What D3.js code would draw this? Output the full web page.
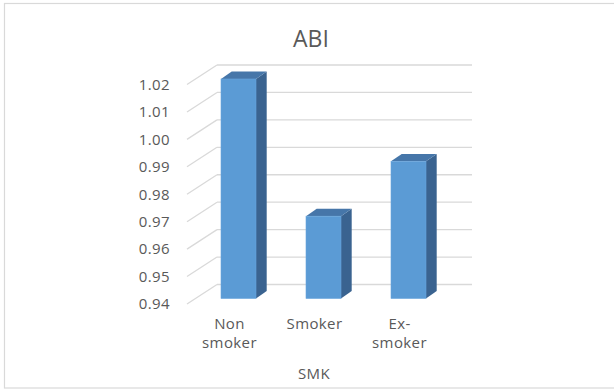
<!DOCTYPE html>
<html>
<head>
<meta charset="utf-8">
<script src="https://cdn.jsdelivr.net/npm/d3@7"></script>
<style>
  html, body { margin: 0; padding: 0; background: #ffffff; }
  svg { display: block; }
  text { font-family: "Open Sans", "Liberation Sans", sans-serif; fill: #595959; }
</style>
</head>
<body>
<svg id="chart" width="614" height="392"></svg>
<script>
// Mean ABI by smoking status
const categories = ["Non smoker", "Smoker", "Ex-smoker"];
const abiValues = [1.02, 0.97, 0.99];
const tickValues = [0.94, 0.95, 0.96, 0.97, 0.98, 0.99, 1.00, 1.01, 1.02];
const titleText = "ABI";
const axisTitle = "SMK";

const svg = d3.select("#chart");

// Chart frame
svg.append("rect")
  .attr("x", 4.5).attr("y", 3.5)
  .attr("width", 620).attr("height", 384.5)
  .attr("fill", "#ffffff")
  .attr("stroke", "#d9d9d9")
  .attr("stroke-width", 1.2);

// Back-wall scales of the 3D plot area
const y = d3.scaleLinear().domain([0.94, 1.02]).range([284.5, 65]);
const x = d3.scaleBand().domain(categories).range([217, 472]);

// Depth offsets: floor front edge, bar front plane, bar depth
const wall = { dx: -30, dy: 19.5 };
const barPlane = { dx: -21, dy: 14 };
const barDepth = { dx: 10.7, dy: -7.4 };
const barWidth = 35;

// Gridlines: back wall + side wall diagonals
const grid = svg.append("g").attr("stroke", "#d9d9d9").attr("stroke-width", 1.3).attr("fill", "none");
grid.selectAll("line.back").data(tickValues).join("line")
  .attr("class", "back")
  .attr("x1", x.range()[0]).attr("x2", x.range()[1])
  .attr("y1", d => y(d)).attr("y2", d => y(d));
grid.selectAll("line.side").data(tickValues).join("line")
  .attr("class", "side")
  .attr("x1", x.range()[0] + wall.dx).attr("y1", d => y(d) + wall.dy)
  .attr("x2", x.range()[0]).attr("y2", d => y(d));

// Value axis labels, placed along the front edge of the side wall
const axis = svg.append("g")
  .attr("transform", `translate(${x.range()[0] + wall.dx},${wall.dy})`)
  .call(d3.axisLeft(y).tickValues(tickValues).tickSize(0).tickPadding(17).tickFormat(d3.format(".2f")));
axis.select(".domain").remove();
axis.selectAll("text")
  .attr("fill", "#595959")
  .style("font-family", "'Open Sans', sans-serif")
  .style("font-size", "15px")
  .style("letter-spacing", "0.4px");

// 3D columns
const bars = svg.append("g");
const data = categories.map((c, i) => ({ c, v: abiValues[i] }));
const base = y.domain()[0];

data.forEach(d => {
  const cx = x(d.c) + x.bandwidth() / 2 + barPlane.dx;
  const x0 = cx - barWidth / 2, x1 = cx + barWidth / 2;
  const yT = y(d.v) + barPlane.dy, yB = y(base) + barPlane.dy;
  const g = bars.append("g");
  // side face
  g.append("path")
    .attr("d", `M${x1},${yT}L${x1 + barDepth.dx},${yT + barDepth.dy}L${x1 + barDepth.dx},${yB + barDepth.dy}L${x1},${yB}Z`)
    .attr("fill", "#3a6390");
  // top face
  g.append("path")
    .attr("d", `M${x0},${yT}L${x1},${yT}L${x1 + barDepth.dx},${yT + barDepth.dy}L${x0 + barDepth.dx},${yT + barDepth.dy}Z`)
    .attr("fill", "#4676a9");
  // front face
  g.append("rect")
    .attr("x", x0).attr("y", yT)
    .attr("width", barWidth).attr("height", yB - yT)
    .attr("fill", "#5b9bd5")
    .attr("stroke", "#6aa6dc").attr("stroke-width", 0.6);
});

// Category labels, wrapped after a space or hyphen
const labels = svg.append("g").attr("text-anchor", "middle")
  .style("font-size", "15px").style("letter-spacing", "0.4px");
categories.forEach(c => {
  const lines = c.includes(" ") ? c.split(" ") : c.includes("-") ? [c.slice(0, c.indexOf("-") + 1), c.slice(c.indexOf("-") + 1)] : [c];
  const t = labels.append("text")
    .attr("x", x(c) + x.bandwidth() / 2 + wall.dx)
    .attr("y", y(base) + wall.dy + 25);
  lines.forEach((l, i) => t.append("tspan")
    .attr("x", x(c) + x.bandwidth() / 2 + wall.dx)
    .attr("dy", i === 0 ? 0 : 18.5)
    .text(l));
});

// Axis title
svg.append("text")
  .attr("x", 314).attr("y", 379)
  .attr("text-anchor", "middle")
  .style("font-size", "15px")
  .style("letter-spacing", "0.4px")
  .text(axisTitle);

// Chart title
svg.append("text")
  .attr("x", 311).attr("y", 47)
  .attr("text-anchor", "middle")
  .style("font-size", "23px")
  .text(titleText);
</script>
</body>
</html>
